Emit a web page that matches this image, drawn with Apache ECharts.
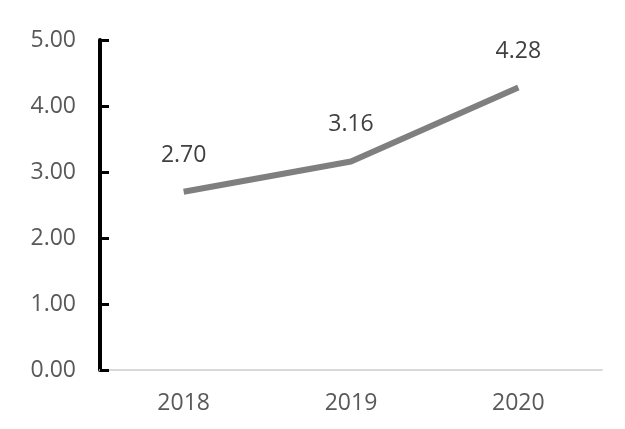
<!DOCTYPE html>
<html>
<head>
<meta charset="utf-8">
<script src="https://cdn.jsdelivr.net/npm/echarts@6/dist/echarts.min.js"></script>
<style>
  html, body { margin: 0; padding: 0; background: #fff; }
  #main { width: 625px; height: 429px; }
</style>
</head>
<body>
<div id="main"></div>
<script>
var years = ['2018', '2019', '2020'];
var values = [2.70, 3.16, 4.28];

var myChart = echarts.init(document.getElementById('main'));
var option = {
  animation: false,
  textStyle: { fontFamily: 'Open Sans' },
  grid: { left: 100, right: 23, top: 40, bottom: 59 },
  xAxis: {
    type: 'category',
    data: years,
    axisLine: { lineStyle: { color: '#d9d9d9', width: 2 } },
    axisTick: { show: false },
    axisLabel: { color: '#595959', fontSize: 23, margin: 22 }
  },
  yAxis: {
    type: 'value',
    min: 0,
    max: 5,
    interval: 1,
    axisLine: { show: true, lineStyle: { color: '#000', width: 4 } },
    axisTick: { show: true, inside: true, length: 9, lineStyle: { color: '#000', width: 3 } },
    splitLine: { show: false },
    axisLabel: {
      color: '#595959',
      fontSize: 23,
      margin: 24,
      formatter: function (v) { return v.toFixed(2) }
    }
  },
  series: [{
    type: 'line',
    data: values,
    symbol: 'circle',
    symbolSize: 0,
    itemStyle: { color: '#7f7f7f' },
    lineStyle: { color: '#7f7f7f', width: 6 },
    label: {
      show: true,
      position: 'top',
      distance: 25,
      color: '#404040',
      fontSize: 23,
      formatter: function (p) { return p.value.toFixed(2) }
    }
  }]
};
myChart.setOption(option);
</script>
</body>
</html>
